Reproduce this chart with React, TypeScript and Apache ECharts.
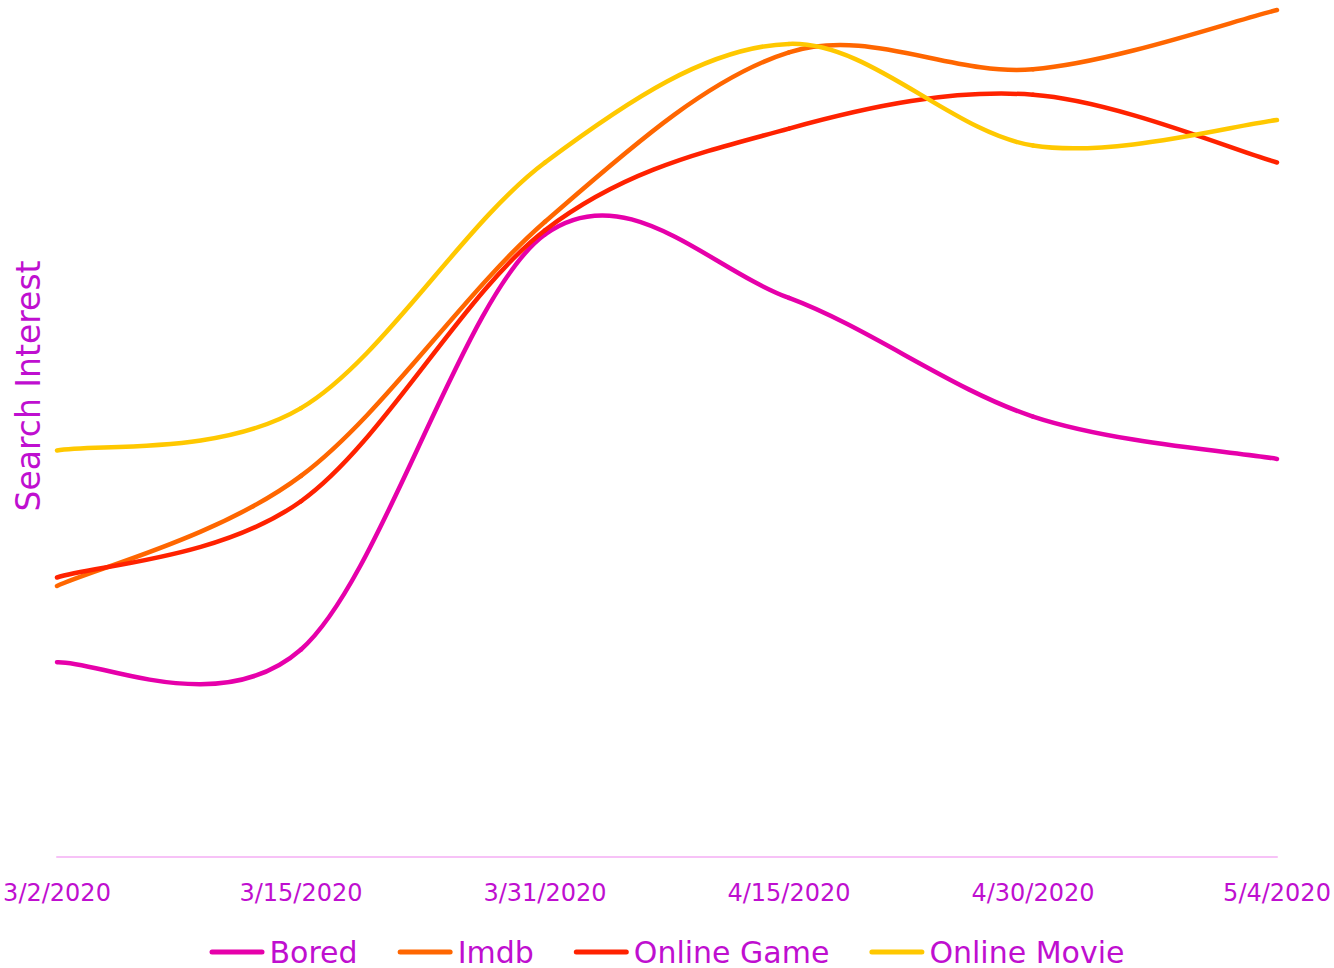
import React, { useEffect, useRef } from "react";
import * as echarts from "echarts";

const categories = ["3/2/2020", "3/15/2020", "3/31/2020", "4/15/2020", "4/30/2020", "5/4/2020"];
const bored = [23, 24.5, 73.5, 66, 52, 47];
const imdb = [32, 45, 75, 95, 93, 100];
const onlineGame = [33, 42, 74, 86, 90, 82];
const onlineMovie = [48, 53, 82, 96, 84, 87];

const seriesNames = ["Bored", "Imdb", "Online Game", "Online Movie"];
const seriesColors = ["#E600AA", "#FF6600", "#FF2200", "#FFC800"];
const seriesData = [bored, imdb, onlineGame, onlineMovie];

const TEXT = "#BF0FD0";
const FONT = "DejaVu Sans";

// Smoothed (Catmull-Rom style) segment renderer: each data item is one segment i -> i+1
function makeRenderItem(values: number[], color: string) {
  return (params: any, api: any) => {
    const i = params.dataIndex;
    const n = values.length;
    const p = (k: number) => {
      const kk = Math.max(0, Math.min(n - 1, k));
      return api.coord([kk, values[kk]]);
    };
    const p0 = p(i - 1);
    const p1 = p(i);
    const p2 = p(i + 1);
    const p3 = p(i + 2);
    const t = 1 / 6;
    const cp1 = [p1[0] + (p2[0] - p0[0]) * t, p1[1] + (p2[1] - p0[1]) * t];
    const cp2 = [p2[0] - (p3[0] - p1[0]) * t, p2[1] - (p3[1] - p1[1]) * t];
    return {
      type: "bezierCurve",
      shape: {
        x1: p1[0],
        y1: p1[1],
        x2: p2[0],
        y2: p2[1],
        cpx1: cp1[0],
        cpy1: cp1[1],
        cpx2: cp2[0],
        cpy2: cp2[1],
      },
      style: { stroke: color, lineWidth: 4.5, fill: null, lineCap: "round" },
    };
  };
}

export default function App() {
  const ref = useRef<HTMLDivElement>(null);
  useEffect(() => {
    if (!ref.current) return;
    const chart = echarts.init(ref.current, null, { renderer: "svg" });
    const icon =
      "path://M2.5,0 H52.5 A2.5,2.5 0 0 1 52.5,5 H2.5 A2.5,2.5 0 0 1 2.5,0 Z";
    chart.setOption({
      animation: false,
      backgroundColor: "#ffffff",
      grid: { left: 57, right: 57, top: 10, bottom: 111, containLabel: false },
      xAxis: {
        type: "category",
        data: categories,
        boundaryGap: false,
        axisLine: { show: true, lineStyle: { color: "#F7C2F7", width: 2 } },
        axisTick: { show: false },
        axisLabel: {
          color: TEXT,
          fontFamily: FONT,
          fontSize: 24,
          margin: 24,
          interval: 0,
        },
        splitLine: { show: false },
      },
      yAxis: {
        type: "value",
        min: 0,
        max: 100,
        show: false,
      },
      legend: {
        top: 937,
        left: "center",
        padding: 0,
        itemWidth: 55,
        itemHeight: 5,
        itemGap: 40,
        icon,
        textStyle: { color: TEXT, fontFamily: FONT, fontSize: 30 },
        data: seriesNames,
      },
      graphic: [
        {
          type: "text",
          x: 28,
          y: 386,
          rotation: Math.PI / 2,
          style: {
            text: "Search Interest",
            fill: TEXT,
            font: `33px ${FONT}`,
            align: "center",
            verticalAlign: "middle",
          },
        },
      ],
      series: seriesNames.map((name, i) => ({
        name,
        type: "custom",
        color: seriesColors[i],
        itemStyle: { color: seriesColors[i] },
        renderItem: makeRenderItem(seriesData[i], seriesColors[i]),
        data: seriesData[i].slice(0, -1).map((v, k) => [k, v]),
        encode: { x: 0, y: 1 },
        clip: false,
      })),
    });
    return () => chart.dispose();
  }, []);
  return (
    <div
      ref={ref}
      style={{ position: "fixed", left: 0, top: 0, width: 1334, height: 968 }}
    />
  );
}
